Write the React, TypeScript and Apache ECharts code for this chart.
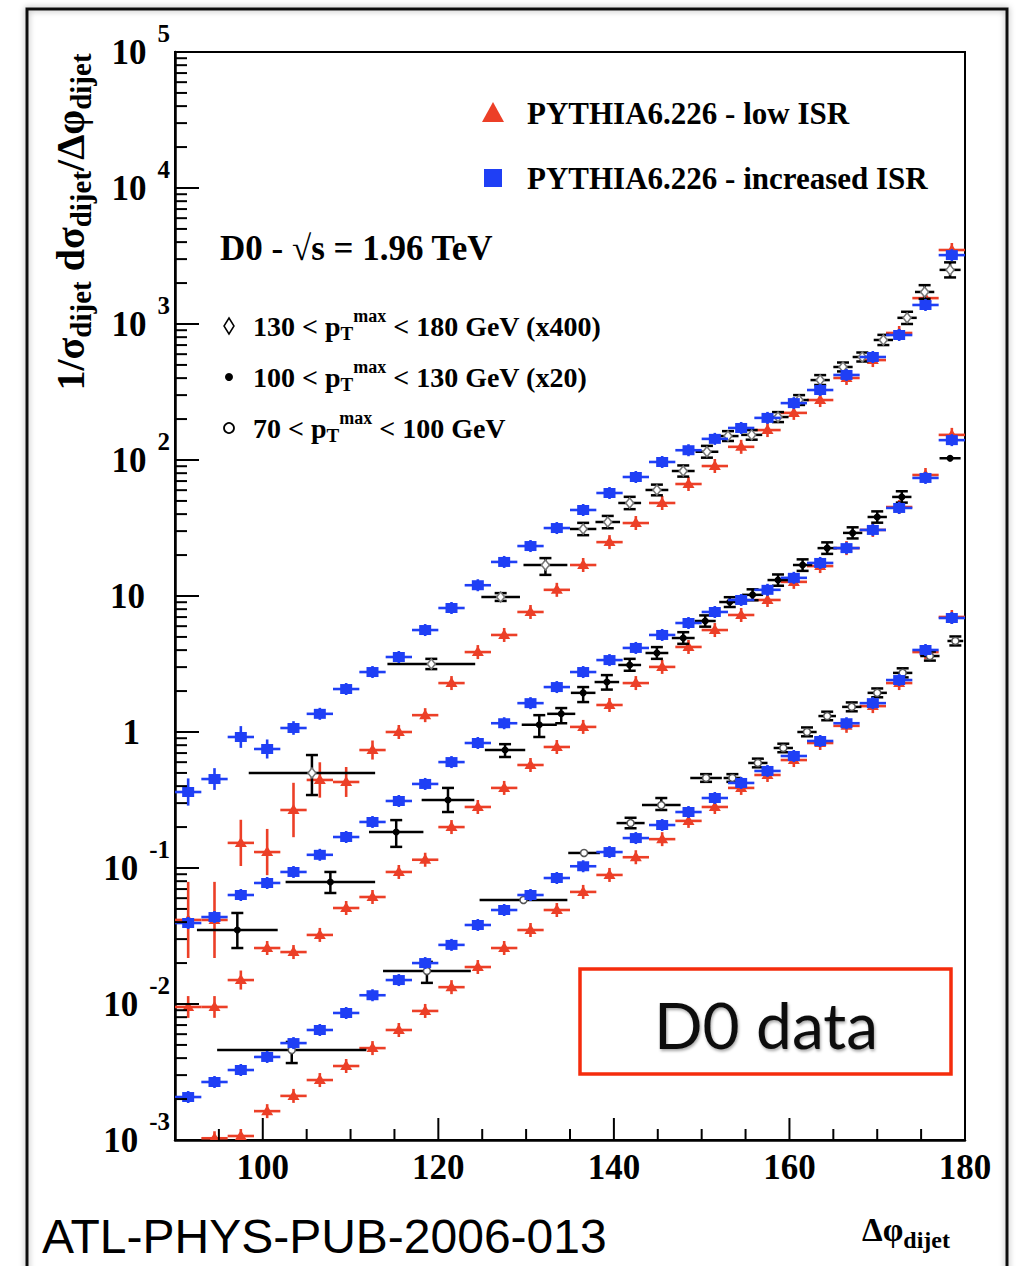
import React, { useEffect, useRef } from "react";
import * as echarts from "echarts";

const LOW = "PYTHIA6.226 - low ISR";
const INC = "PYTHIA6.226 - increased ISR";
const RED = "#ec3f27";
const BLUE = "#1f3ff5";
const SERIF = "'Liberation Serif', 'DejaVu Serif', serif";

// Monte Carlo bins (3 degree wide)
const binCenters = [91.5, 94.5, 97.5, 100.5, 103.5, 106.5, 109.5, 112.5, 115.5, 118.5, 121.5, 124.5, 127.5, 130.5, 133.5, 136.5, 139.5, 142.5, 145.5, 148.5, 151.5, 154.5, 157.5, 160.5, 163.5, 166.5, 169.5, 172.5, 175.5, 178.5];
const BIN_HALF_WIDTH = 1.5;

// 130 < pT < 180 GeV (x400)
const lowIsrTop = [0.0415, 0.0415, 0.153, 0.131, 0.267, 0.444, 0.429, 0.737, 1.0, 1.33, 2.29, 3.87, 5.17, 7.63, 11.1, 16.9, 24.9, 34.4, 48.3, 66.6, 90.3, 125, 166, 222, 276, 401, 543, 859, 1550, 3500];
const lowIsrTopErr = [0.28, 0.28, 0.17, 0.17, 0.2, 0.13, 0.11, 0.07, 0.04, 0.03, 0.02, 0.02, 0.02, 0.02, 0.02, 0.02, 0.02, 0.02, 0.02, 0.02, 0.02, 0.02, 0.02, 0.02, 0.02, 0.02, 0.02, 0.02, 0.02, 0.02];
const incIsrTop = [0.362, 0.451, 0.919, 0.75, 1.07, 1.36, 2.07, 2.76, 3.56, 5.62, 8.16, 12.0, 17.8, 23.3, 31.6, 42.9, 57.2, 75.0, 96.7, 118, 143, 172, 204, 262, 327, 422, 572, 830, 1380, 3210];
const incIsrTopErr = [0.1, 0.08, 0.08, 0.07, 0.05, 0.04, 0.03, 0.03, 0.03, 0.03, 0.02, 0.02, 0.02, 0.02, 0.02, 0.02, 0.02, 0.02, 0.02, 0.02, 0.02, 0.02, 0.02, 0.02, 0.02, 0.02, 0.02, 0.02, 0.02, 0.02];

// 100 < pT < 130 GeV (x20)
const lowIsrMid = [0.00951, 0.00951, 0.015, 0.0258, 0.0241, 0.0322, 0.0508, 0.0612, 0.0935, 0.115, 0.2, 0.281, 0.388, 0.572, 0.776, 1.09, 1.58, 2.29, 3.01, 4.22, 5.62, 7.25, 9.35, 12.7, 16.6, 22.5, 30.6, 45.1, 77.6, 153];
const lowIsrMidErr = [0.08, 0.08, 0.07, 0.045, 0.04, 0.03, 0.03, 0.03, 0.03, 0.03, 0.02, 0.02, 0.02, 0.02, 0.02, 0.02, 0.02, 0.02, 0.02, 0.02, 0.02, 0.02, 0.02, 0.02, 0.02, 0.02, 0.02, 0.02, 0.02, 0.02];
const incIsrMid = [0.0394, 0.0436, 0.0633, 0.0776, 0.0935, 0.125, 0.169, 0.218, 0.311, 0.415, 0.601, 0.83, 1.16, 1.63, 2.14, 2.76, 3.38, 4.15, 5.17, 6.33, 7.63, 9.35, 11.1, 13.6, 17.5, 22.5, 30.6, 44.4, 73.8, 140];
const incIsrMidErr = [0.04, 0.04, 0.03, 0.03, 0.03, 0.02, 0.02, 0.02, 0.02, 0.02, 0.02, 0.02, 0.02, 0.02, 0.02, 0.02, 0.02, 0.02, 0.02, 0.02, 0.02, 0.02, 0.02, 0.02, 0.02, 0.02, 0.02, 0.02, 0.02, 0.02];

// 70 < pT < 100 GeV
const lowIsrBot = [null, 0.00103, 0.00107, 0.00163, 0.00211, 0.00276, 0.0035, 0.00474, 0.00644, 0.00889, 0.0133, 0.0187, 0.0258, 0.035, 0.0491, 0.0667, 0.0889, 0.12, 0.163, 0.222, 0.281, 0.388, 0.483, 0.622, 0.83, 1.11, 1.55, 2.29, 3.87, 7.01];
const lowIsrBotErr = [0.02, 0.02, 0.02, 0.02, 0.02, 0.02, 0.02, 0.02, 0.02, 0.02, 0.02, 0.02, 0.02, 0.02, 0.02, 0.02, 0.02, 0.02, 0.02, 0.02, 0.02, 0.02, 0.02, 0.02, 0.02, 0.02, 0.02, 0.02, 0.02, 0.02];
const incIsrBot = [0.00207, 0.00267, 0.00327, 0.00408, 0.00516, 0.00644, 0.00859, 0.0116, 0.015, 0.02, 0.0272, 0.0381, 0.0491, 0.0633, 0.0844, 0.103, 0.131, 0.166, 0.207, 0.258, 0.327, 0.422, 0.517, 0.666, 0.859, 1.16, 1.63, 2.41, 4.01, 6.89];
const incIsrBotErr = [0.02, 0.02, 0.02, 0.02, 0.02, 0.02, 0.02, 0.02, 0.02, 0.02, 0.02, 0.02, 0.02, 0.02, 0.02, 0.02, 0.02, 0.02, 0.02, 0.02, 0.02, 0.02, 0.02, 0.02, 0.02, 0.02, 0.02, 0.02, 0.02, 0.02];

// D0 data: [x, half bin width, y, y low, y high]
const d0Top = [
  [105.6, 7.2, 0.5, 0.344, 0.677],
  [119.2, 5.0, 3.16, 2.9, 3.45],
  [127.1, 2.2, 9.84, 9.2, 10.5],
  [132.2, 2.5, 16.9, 14.3, 19.0],
  [136.5, 1.5, 31.1, 28.0, 34.5],
  [139.3, 1.4, 35.0, 31.5, 38.8],
  [141.8, 1.3, 48.3, 43.5, 53.6],
  [144.9, 1.3, 60.2, 55.0, 65.9],
  [147.9, 1.3, 83.0, 75.5, 91.2],
  [150.6, 1.3, 115, 104, 127],
  [153.0, 1.2, 150, 138, 163],
  [155.7, 1.2, 153, 141, 166],
  [158.7, 1.2, 207, 190, 225],
  [161.1, 1.1, 276, 254, 300],
  [163.5, 1.1, 387, 356, 421],
  [166.1, 1.1, 483, 448, 521],
  [168.3, 1.1, 572, 530, 617],
  [170.7, 1.1, 763, 700, 832],
  [173.4, 1.1, 1110, 1000, 1230],
  [175.4, 1.1, 1720, 1530, 1930],
  [178.3, 1.2, 2500, 2200, 2840],
];
const d0Mid = [
  [97.1, 4.6, 0.035, 0.0258, 0.0467],
  [107.7, 5.1, 0.0789, 0.0655, 0.0935],
  [115.2, 3.1, 0.184, 0.143, 0.225],
  [121.1, 3.0, 0.316, 0.258, 0.388],
  [127.6, 2.3, 0.737, 0.655, 0.814],
  [131.5, 2.0, 1.13, 0.919, 1.33],
  [134.0, 1.6, 1.36, 1.16, 1.5],
  [136.5, 1.4, 1.94, 1.66, 2.14],
  [139.2, 1.4, 2.33, 2.05, 2.62],
  [141.8, 1.3, 3.11, 2.82, 3.45],
  [144.9, 1.3, 3.81, 3.45, 4.21],
  [147.9, 1.3, 4.91, 4.45, 5.42],
  [150.4, 1.2, 6.55, 5.95, 7.2],
  [153.2, 1.2, 9.03, 8.3, 9.8],
  [155.8, 1.2, 10.2, 9.3, 11.2],
  [158.7, 1.2, 13.1, 11.9, 14.4],
  [161.5, 1.1, 16.9, 15.3, 18.6],
  [164.3, 1.1, 22.5, 20.4, 24.8],
  [167.2, 1.1, 29.1, 26.5, 32.0],
  [170.0, 1.1, 38.1, 34.6, 41.9],
  [172.8, 1.1, 53.5, 48.6, 58.9],
  [178.3, 1.2, 103, 98, 108],
];
const d0Bot = [
  [103.3, 8.5, 0.00459, 0.00368, 0.00526],
  [118.7, 5.0, 0.0175, 0.0143, 0.0204],
  [129.7, 5.0, 0.0582, 0.055, 0.0615],
  [136.6, 1.8, 0.129, 0.122, 0.136],
  [141.9, 1.6, 0.214, 0.196, 0.234],
  [145.4, 2.2, 0.29, 0.267, 0.327],
  [150.5, 1.8, 0.459, 0.43, 0.49],
  [153.5, 1.0, 0.459, 0.43, 0.49],
  [156.4, 1.1, 0.592, 0.55, 0.637],
  [159.3, 1.1, 0.763, 0.71, 0.82],
  [162.0, 1.1, 1.0, 0.93, 1.08],
  [164.3, 1.0, 1.31, 1.22, 1.41],
  [167.1, 1.1, 1.53, 1.42, 1.65],
  [170.0, 1.1, 1.94, 1.8, 2.09],
  [172.9, 1.1, 2.72, 2.52, 2.94],
  [176.0, 1.1, 3.62, 3.35, 3.91],
  [178.9, 0.9, 4.67, 4.33, 5.04],
];

const xTickLabels = [100, 120, 140, 160, 180];
const xMinorTicks = [95, 105, 110, 115, 125, 130, 135, 145, 150, 155, 165, 170, 175];
const yTickExponents = [-3, -2, -1, 0, 1, 2, 3, 4, 5];
const yMinorMultipliers = [2, 3, 4, 5, 6, 7, 8, 9];

const ptLegend = [
  { marker: "diamond", pre: "130 < p", post: " < 180 GeV (x400)" },
  { marker: "dot", pre: "100 < p", post: " < 130 GeV (x20)" },
  { marker: "circle", pre: "70 < p", post: " < 100 GeV" },
];

function mcData(values: any[], errs: number[]) {
  const out: any[] = [];
  binCenters.forEach((x, i) => {
    if (values[i] != null) out.push([x, values[i], BIN_HALF_WIDTH, errs[i]]);
  });
  return out;
}

function mcRender(shape: string, color: string) {
  return (params: any, api: any) => {
    const x = api.value(0);
    const y = api.value(1);
    const hw = api.value(2);
    const ed = api.value(3);
    const c = api.coord([x, y]);
    const l = api.coord([x - hw, y]);
    const r = api.coord([x + hw, y]);
    const t = api.coord([x, y * Math.pow(10, ed)]);
    const b = api.coord([x, y / Math.pow(10, ed)]);
    const minV = shape === "tri" ? 7 : 6;
    const ty = Math.min(t[1], c[1] - minV);
    const by = Math.max(b[1], c[1] + minV);
    const st = { stroke: color, lineWidth: 2.6 };
    const children: any[] = [
      { type: "line", shape: { x1: l[0], y1: c[1], x2: r[0], y2: c[1] }, style: st },
      { type: "line", shape: { x1: c[0], y1: ty, x2: c[0], y2: by }, style: st },
    ];
    if (shape === "tri") {
      children.push({
        type: "polygon",
        shape: { points: [[c[0], c[1] - 6], [c[0] - 6, c[1] + 4], [c[0] + 6, c[1] + 4]] },
        style: { fill: color },
      });
    } else {
      children.push({
        type: "rect",
        shape: { x: c[0] - 6, y: c[1] - 5, width: 12, height: 10 },
        style: { fill: color },
      });
    }
    return { type: "group", children };
  };
}

function dataRender(marker: string) {
  return (params: any, api: any) => {
    const x = api.value(0);
    const hw = api.value(1);
    const y = api.value(2);
    const lo = api.value(3);
    const hi = api.value(4);
    const c = api.coord([x, y]);
    const l = api.coord([x - hw, y]);
    const r = api.coord([x + hw, y]);
    const t = api.coord([x, hi]);
    const b = api.coord([x, lo]);
    const st = { stroke: "#000", lineWidth: 2.5 };
    const children: any[] = [
      { type: "line", shape: { x1: l[0], y1: c[1], x2: r[0], y2: c[1] }, style: st },
      { type: "line", shape: { x1: c[0], y1: t[1], x2: c[0], y2: b[1] }, style: st },
    ];
    if (b[1] - t[1] > 7) {
      children.push({ type: "line", shape: { x1: c[0] - 6, y1: t[1], x2: c[0] + 6, y2: t[1] }, style: st });
      children.push({ type: "line", shape: { x1: c[0] - 6, y1: b[1], x2: c[0] + 6, y2: b[1] }, style: st });
    }
    if (marker === "diamond") {
      children.push({
        type: "polygon",
        shape: { points: [[c[0], c[1] - 5], [c[0] + 4, c[1]], [c[0], c[1] + 5], [c[0] - 4, c[1]]] },
        style: { fill: "#fff", stroke: "#777", lineWidth: 1.5 },
      });
    } else if (marker === "dot") {
      children.push({ type: "circle", shape: { cx: c[0], cy: c[1], r: 3.5 }, style: { fill: "#000" } });
    } else {
      children.push({
        type: "circle",
        shape: { cx: c[0], cy: c[1], r: 3.5 },
        style: { fill: "#fff", stroke: "#555", lineWidth: 1.5 },
      });
    }
    return { type: "group", children };
  };
}

function tickData() {
  const out: any[] = [];
  xTickLabels.forEach((v) => out.push([v, 0.001, 22, 0]));
  xMinorTicks.forEach((v) => out.push([v, 0.001, 11, 0]));
  yTickExponents.forEach((e) => out.push([90, Math.pow(10, e), 24, 1]));
  yTickExponents.slice(0, -1).forEach((e) =>
    yMinorMultipliers.forEach((m) => out.push([90, m * Math.pow(10, e), 12, 1]))
  );
  return out;
}

function buildOption() {
  const bold = { fontFamily: SERIF, fontWeight: "bold", fill: "#000" };
  const ptElements: any[] = [];
  ptLegend.forEach((p, i) => {
    const cy = 326 + i * 51;
    if (p.marker === "diamond") {
      ptElements.push({
        type: "polygon",
        shape: { points: [[229, cy - 8], [234, cy], [229, cy + 8], [224, cy]] },
        style: { fill: "#fff", stroke: "#000", lineWidth: 1.5 },
      });
    } else if (p.marker === "dot") {
      ptElements.push({ type: "circle", shape: { cx: 229, cy, r: 4 }, style: { fill: "#000" } });
    } else {
      ptElements.push({
        type: "circle",
        shape: { cx: 229, cy, r: 5 },
        style: { fill: "#fff", stroke: "#000", lineWidth: 1.8 },
      });
    }
    ptElements.push({
      type: "text",
      x: 253,
      y: cy,
      style: {
        text: `{t|${p.pre}}{sub|T}{sup|max}{t|${p.post}}`,
        align: "left",
        verticalAlign: "middle",
        rich: {
          t: { ...bold, fontSize: 28 },
          sub: { ...bold, fontSize: 19, padding: [14, 0, 0, 0] },
          sup: { ...bold, fontSize: 18, padding: [0, 0, 20, 0] },
        },
      },
    });
  });

  const legendElements: any[] = [
    {
      type: "polygon",
      shape: { points: [[493, 102], [504, 122], [482, 122]] },
      style: { fill: RED },
    },
    {
      type: "text",
      x: 527,
      y: 113,
      style: { text: LOW, ...bold, fontSize: 31, align: "left", verticalAlign: "middle" },
    },
    {
      type: "rect",
      shape: { x: 484, y: 169, width: 18, height: 18 },
      style: { fill: BLUE },
    },
    {
      type: "text",
      x: 527,
      y: 178,
      style: { text: INC, ...bold, fontSize: 31, align: "left", verticalAlign: "middle" },
    },
  ];

  return {
    animation: false,
    backgroundColor: "#fff",
    grid: {
      left: 175,
      top: 52,
      width: 790,
      height: 1088,
      show: true,
      borderColor: "#000",
      borderWidth: 2,
      backgroundColor: "transparent",
    },
    xAxis: {
      type: "value",
      min: 90,
      max: 180,
      interval: 10,
      axisLine: { show: true, lineStyle: { color: "#000", width: 2.5 } },
      axisTick: { show: false },
      splitLine: { show: false },
      axisLabel: {
        margin: 10,
        fontFamily: SERIF,
        fontWeight: "bold",
        fontSize: 35,
        color: "#000",
        formatter: (v: number) => (xTickLabels.indexOf(Math.round(v)) >= 0 ? String(Math.round(v)) : ""),
      },
    },
    yAxis: {
      type: "log",
      logBase: 10,
      min: 0.001,
      max: 100000,
      splitNumber: 8,
      axisLine: { show: true, lineStyle: { color: "#000", width: 2.5 } },
      axisTick: { show: false },
      splitLine: { show: false },
      axisLabel: {
        margin: 5,
        formatter: (v: number) => {
          const e = Math.round(Math.log10(v));
          if (yTickExponents.indexOf(e) < 0) return "";
          if (e === 0) return "{b|1}{gap1| }";
          if (e === 1) return "{b|10}{gap10| }";
          return `{b|10}{e|${e}}`;
        },
        rich: {
          b: { fontFamily: SERIF, fontWeight: "bold", fontSize: 35, color: "#000" },
          e: { fontFamily: SERIF, fontWeight: "bold", fontSize: 25, color: "#000", padding: [0, 0, 38, 11] },
          gap1: { width: 30, fontSize: 24 },
          gap10: { width: 25, fontSize: 24 },
        },
      },
    },
    series: [
      {
        type: "custom",
        name: "ticks",
        silent: true,
        clip: false,
        z: 5,
        data: tickData(),
        renderItem: (params: any, api: any) => {
          const p = api.coord([api.value(0), api.value(1)]);
          const len = api.value(2);
          const dir = api.value(3);
          return {
            type: "line",
            shape: dir === 0
              ? { x1: p[0], y1: p[1], x2: p[0], y2: p[1] - len }
              : { x1: p[0], y1: p[1], x2: p[0] + len, y2: p[1] },
            style: { stroke: "#000", lineWidth: 2 },
          };
        },
      },
      ...[
        [lowIsrTop, lowIsrTopErr],
        [lowIsrMid, lowIsrMidErr],
        [lowIsrBot, lowIsrBotErr],
      ].map((d: any) => ({
        type: "custom",
        name: LOW,
        clip: true,
        itemStyle: { color: RED },
        data: mcData(d[0], d[1]),
        renderItem: mcRender("tri", RED),
      })),
      ...[
        [d0Top, "diamond"],
        [d0Mid, "dot"],
        [d0Bot, "circle"],
      ].map((d: any, i: number) => ({
        type: "custom",
        name: "D0 data " + i,
        clip: true,
        encode: { x: 0, y: 2 },
        data: d[0],
        renderItem: dataRender(d[1]),
      })),
      ...[
        [incIsrTop, incIsrTopErr],
        [incIsrMid, incIsrMidErr],
        [incIsrBot, incIsrBotErr],
      ].map((d: any) => ({
        type: "custom",
        name: INC,
        clip: true,
        itemStyle: { color: BLUE },
        data: mcData(d[0], d[1]),
        renderItem: mcRender("sq", BLUE),
      })),
    ],
    graphic: [
      {
        type: "rect",
        silent: true,
        z: 0,
        shape: { x: 27, y: 9, width: 980, height: 1300 },
        style: { fill: "none", stroke: "#111", lineWidth: 3, shadowBlur: 6, shadowColor: "rgba(0,0,0,0.35)" },
      },
      {
        type: "text",
        x: 70,
        y: 222,
        rotation: Math.PI / 2,
        style: {
          text: "{m|1/σ}{s|dijet}{m| dσ}{s|dijet}{m|/Δφ}{s|dijet}",
          align: "center",
          verticalAlign: "middle",
          rich: {
            m: { ...bold, fontSize: 40 },
            s: { ...bold, fontSize: 29, padding: [22, 0, 0, 0] },
          },
        },
      },
      {
        type: "text",
        x: 862,
        y: 1230,
        style: {
          text: "{m|Δφ}{s|dijet}",
          align: "left",
          verticalAlign: "middle",
          rich: {
            m: { ...bold, fontSize: 33 },
            s: { ...bold, fontSize: 24, padding: [20, 0, 0, 0] },
          },
        },
      },
      {
        type: "text",
        x: 42,
        y: 1236,
        style: {
          text: "ATL-PHYS-PUB-2006-013",
          fontFamily: "'Liberation Sans', Arial, sans-serif",
          fontSize: 48,
          fill: "#000",
          align: "left",
          verticalAlign: "middle",
        },
      },
      {
        type: "text",
        x: 220,
        y: 248,
        style: {
          text: "D0 - √s = 1.96 TeV",
          ...bold,
          fontSize: 35,
          align: "left",
          verticalAlign: "middle",
        },
      },
      ...legendElements,
      ...ptElements,
      {
        type: "rect",
        z: 100,
        shape: { x: 580, y: 969, width: 371, height: 105 },
        style: { fill: "#fff", stroke: "#f52c0c", lineWidth: 3.5 },
      },
      {
        type: "text",
        z: 101,
        x: 766,
        y: 1024,
        style: {
          text: "D0 data",
          fontFamily: "Lato, 'Open Sans', sans-serif",
          fontSize: 64,
          fill: "#111",
          align: "center",
          verticalAlign: "middle",
          textShadowColor: "rgba(0,0,0,0.35)",
          textShadowBlur: 3,
          textShadowOffsetX: 1,
          textShadowOffsetY: 2,
        },
      },
    ],
  };
}

export default function App() {
  const ref = useRef<HTMLDivElement>(null);
  useEffect(() => {
    if (!ref.current) return;
    const chart = echarts.init(ref.current, null, { renderer: "svg" });
    chart.setOption(buildOption() as any);
    return () => chart.dispose();
  }, []);
  return (
    <div
      ref={ref}
      style={{ position: "fixed", left: 0, top: 0, width: 1016, height: 1266, background: "#fff" }}
    />
  );
}
